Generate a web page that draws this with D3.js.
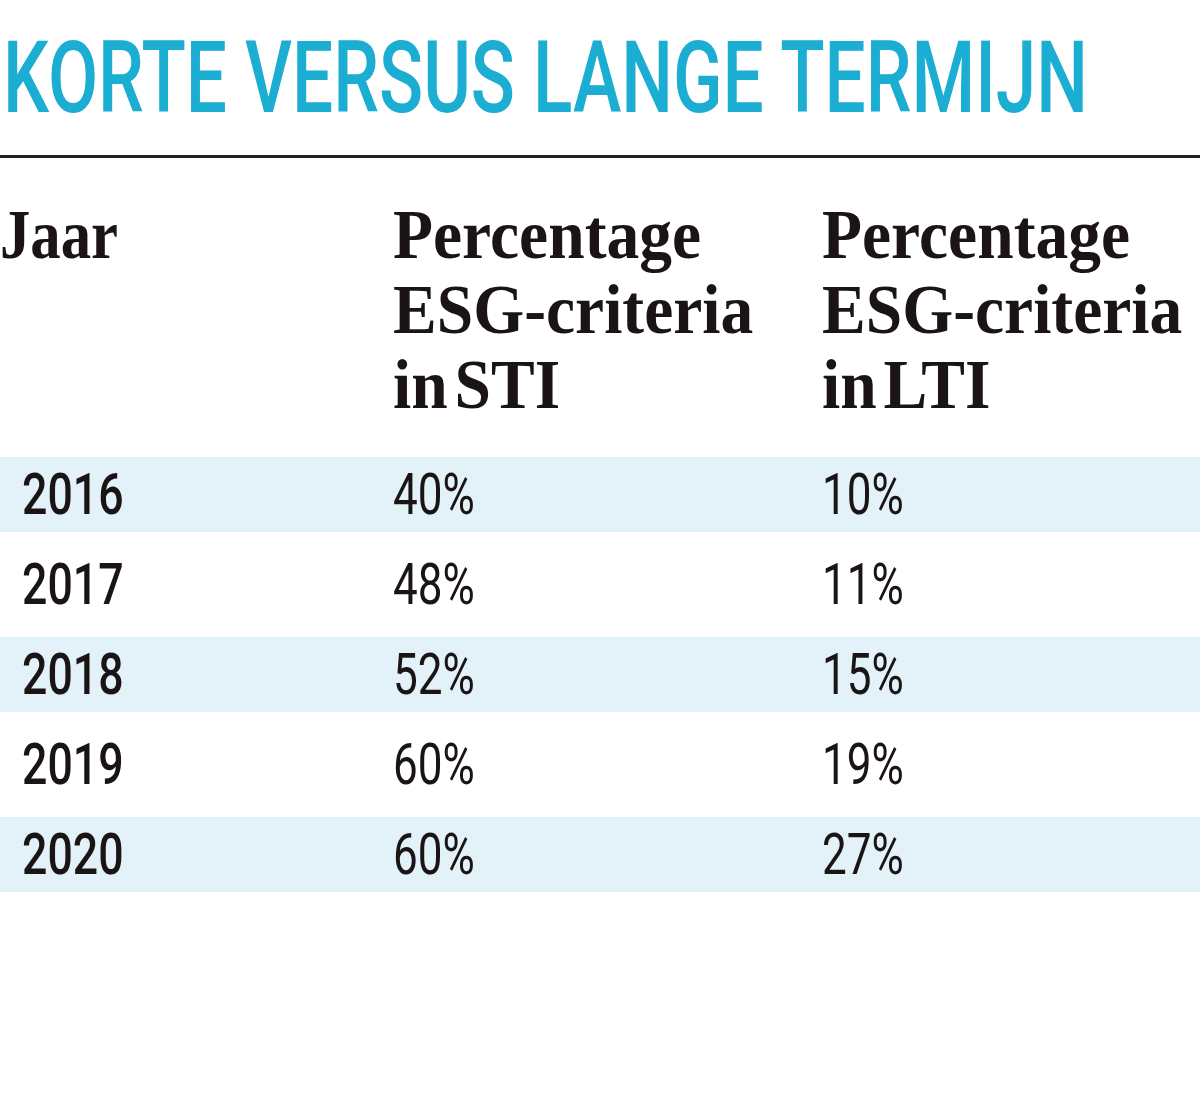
<!DOCTYPE html>
<html><head><meta charset="utf-8">
<script src="https://cdn.jsdelivr.net/npm/d3@7"></script>
<style>html,body{margin:0;padding:0;background:#fff;overflow:hidden}</style>
</head><body>
<script>
const title = "KORTE VERSUS LANGE TERMIJN";
const headers = [["Jaar"], ["Percentage", "ESG-criteria", "in STI"], ["Percentage", "ESG-criteria", "in LTI"]];
const years = ["2016", "2017", "2018", "2019", "2020"];
const sti = [40, 48, 52, 60, 60];
const lti = [10, 11, 15, 19, 27];

const W = 1200, H = 1097;
const svg = d3.select("body").append("svg").attr("width", W).attr("height", H);

// title
svg.append("text").attr("x", 3).attr("y", 112)
  .attr("font-family", "Roboto").attr("font-weight", 500).attr("font-size", 100)
  .attr("fill", "#1badd2").attr("textLength", 1085).attr("lengthAdjust", "spacingAndGlyphs")
  .text(title);

svg.append("line").attr("x1", 0).attr("x2", W).attr("y1", 156.5).attr("y2", 156.5)
  .attr("stroke", "#222").attr("stroke-width", 3);

const colX = d3.scaleOrdinal().domain([0, 1, 2]).range([0, 393, 822]);
const y = d3.scaleBand().domain(years).range([449.5, 899.5]).paddingInner(1/6).paddingOuter(1/12);

// headers
headers.forEach((lines, ci) => {
  lines.forEach((ln, li) => {
    svg.append("text")
      .attr("transform", `translate(${colX(ci)},${258 + li * 75}) scale(${ci === 0 ? 0.88 : 0.95},1)`)
      .attr("font-family", "Liberation Serif").attr("font-weight", 700).attr("font-size", 69)
      .attr("word-spacing", -10)
      .attr("fill", "#1a1414").text(ln);
  });
});

// row bands
svg.append("g").selectAll("rect").data(years.filter((d, i) => i % 2 === 0)).join("rect")
  .attr("x", 0).attr("width", W).attr("y", d => y(d)).attr("height", y.bandwidth())
  .attr("fill", "#e3f2f8");

const rows = years.map((yr, i) => ({yr, sti: sti[i], lti: lti[i]}));
const baseOff = y.bandwidth() / 2 + 19;

const g = svg.append("g");
g.selectAll("text.yr").data(rows).join("text").attr("class", "yr")
  .attr("transform", d => `translate(22,${y(d.yr) + baseOff}) scale(0.77,1)`)
  .attr("font-family", "Roboto").attr("font-weight", 500).attr("font-size", 58)
  .attr("fill", "#1a1414").text(d => d.yr);
g.selectAll("text.sti").data(rows).join("text").attr("class", "sti")
  .attr("transform", d => `translate(${colX(1)},${y(d.yr) + baseOff}) scale(0.76,1)`)
  .attr("font-family", "Roboto").attr("font-weight", 400).attr("font-size", 58)
  .attr("fill", "#1a1414").text(d => d.sti + "%");
g.selectAll("text.lti").data(rows).join("text").attr("class", "lti")
  .attr("transform", d => `translate(${colX(2)},${y(d.yr) + baseOff}) scale(0.76,1)`)
  .attr("font-family", "Roboto").attr("font-weight", 400).attr("font-size", 58)
  .attr("fill", "#1a1414").text(d => d.lti + "%");
</script>
</body></html>
